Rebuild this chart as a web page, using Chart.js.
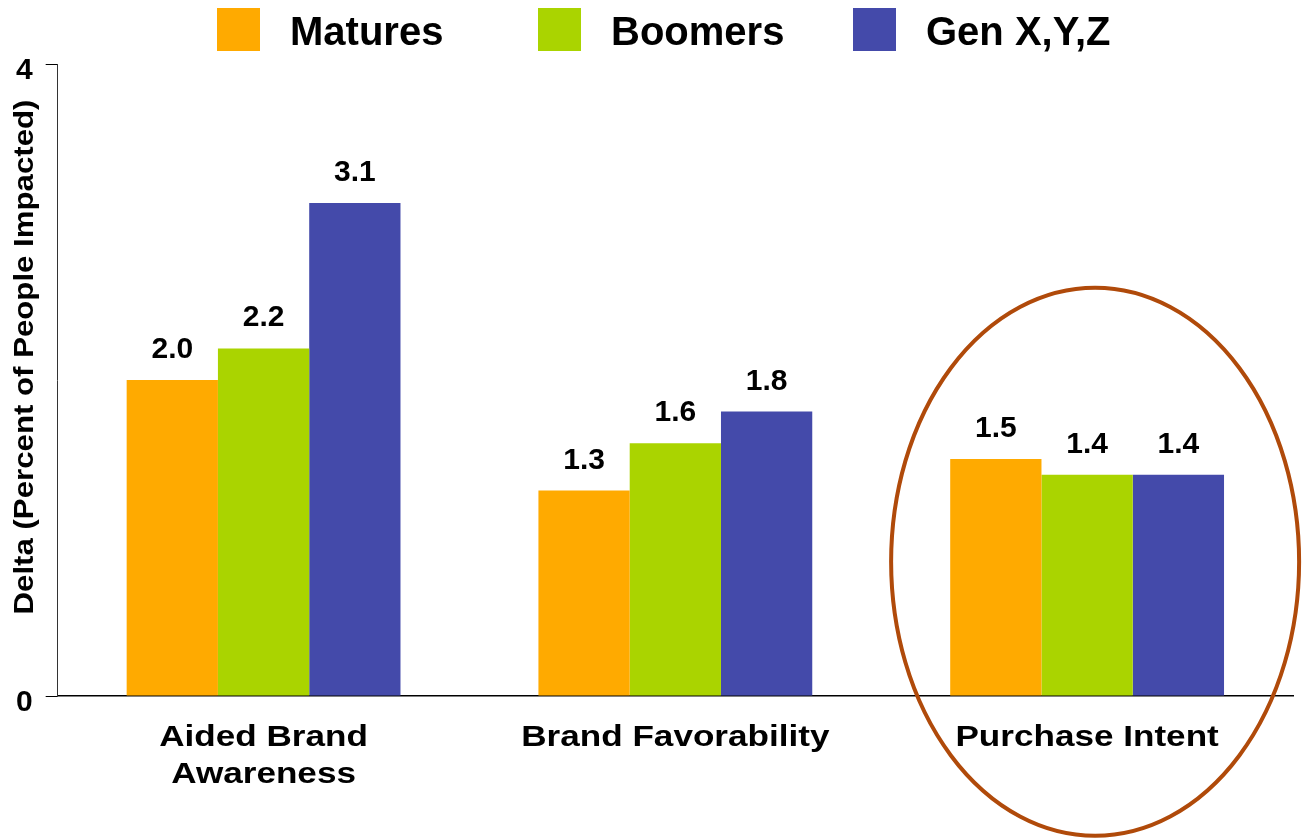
<!DOCTYPE html>
<html>
<head>
<meta charset="utf-8">
<script src="https://cdn.jsdelivr.net/npm/chart.js@4.4.1/dist/chart.umd.min.js"></script>
<style>
  body { margin: 0; background: #fff; }
  #deltaChart { display: block; }
</style>
</head>
<body>
<canvas id="deltaChart" width="1302" height="838"></canvas>
<script>
// data
const categories = [["Aided Brand", "Awareness"], ["Brand Favorability"], ["Purchase Intent"]];
const seriesNames = ["Matures", "Boomers", "Gen X,Y,Z"];
const matures = [2.0, 1.3, 1.5];
const boomers = [2.2, 1.6, 1.4];
const genXYZ = [3.12, 1.8, 1.4];
const yTicks = [0, 4];
const highlightIndex = 2;

// styles
const colors = ['#ffaa00', '#aad400', '#444aaa'];
const legendLeft = [217, 538, 853];
const FONT = "'Liberation Sans', Arial, Helvetica, sans-serif";

/* =========================
   VALUE LABELS
========================= */
const valueLabels = {
  id: 'valueLabels',
  afterDatasetsDraw(chart) {
    const ctx = chart.ctx;
    ctx.save();
    ctx.font = "bold 30px " + FONT;
    ctx.fillStyle = '#000';
    ctx.textAlign = 'center';
    chart.data.datasets.forEach((ds, i) => {
      chart.getDatasetMeta(i).data.forEach((bar, j) => {
        ctx.fillText(ds.data[j].toFixed(1), bar.x, bar.y - 22);
      });
    });
    ctx.restore();
  }
};

/* =========================
   LEGEND, TITLES, ELLIPSE
========================= */
function stretchedText(ctx, text, x, y, sx) {
  ctx.save();
  ctx.translate(x, y);
  ctx.scale(sx, 1);
  ctx.fillText(text, 0, 0);
  ctx.restore();
}

const extras = {
  id: 'extras',
  afterDraw(chart) {
    const ctx = chart.ctx;
    const x = chart.scales.x;
    const y = chart.scales.y;

    // legend
    ctx.save();
    ctx.font = "bold 40px " + FONT;
    ctx.textBaseline = 'alphabetic';
    seriesNames.forEach((name, i) => {
      ctx.fillStyle = colors[i];
      ctx.fillRect(legendLeft[i], 8, 43, 43);
      ctx.fillStyle = '#000';
      ctx.fillText(name, legendLeft[i] + 43 + 30, 45);
    });
    ctx.restore();

    // category labels (wide bold text)
    ctx.save();
    ctx.font = "bold 30px " + FONT;
    ctx.fillStyle = '#000';
    ctx.textAlign = 'center';
    categories.forEach((lines, i) => {
      const cx = x.getPixelForValue(i);
      lines.forEach((line, k) => {
        stretchedText(ctx, line, cx, y.bottom + 50 + k * 37, 1.17);
      });
    });
    ctx.restore();

    // rotated y title
    ctx.save();
    ctx.translate(33, 357);
    ctx.rotate(-Math.PI / 2);
    ctx.font = "bold 28px " + FONT;
    ctx.fillStyle = '#000';
    ctx.textAlign = 'center';
    const w = ctx.measureText('Delta (Percent of People Impacted)').width;
    stretchedText(ctx, 'Delta (Percent of People Impacted)', 0, 0, 515 / w);
    ctx.restore();

    // ellipse round purchase intent
    const cx = x.getPixelForValue(highlightIndex) + 8;
    const cy = y.getPixelForValue(0.85);
    ctx.save();
    ctx.strokeStyle = '#b04a0a';
    ctx.lineWidth = 4;
    ctx.beginPath();
    ctx.ellipse(cx, cy, 204, 274, 0, 0, Math.PI * 2);
    ctx.stroke();
    ctx.restore();
  }
};

new Chart(document.getElementById('deltaChart').getContext('2d'), {
  type: 'bar',
  data: {
    labels: categories,
    datasets: [
      { label: seriesNames[0], data: matures, backgroundColor: colors[0] },
      { label: seriesNames[1], data: boomers, backgroundColor: colors[1] },
      { label: seriesNames[2], data: genXYZ, backgroundColor: colors[2] }
    ]
  },
  options: {
    responsive: false,
    animation: false,
    layout: {
      padding: { left: 3, right: 9, top: 64, bottom: 142 }
    },
    datasets: {
      bar: {
        barPercentage: 1,
        categoryPercentage: 0.665
      }
    },
    plugins: {
      legend: { display: false },
      tooltip: { enabled: false }
    },
    scales: {
      x: {
        grid: { display: false, drawTicks: false },
        border: { display: true, color: '#000', width: 1.5 },
        ticks: { display: false }
      },
      y: {
        min: 0,
        max: 4,
        afterBuildTicks: (scale) => {
          scale.ticks = yTicks.map(v => ({ value: v }));
        },
        grid: { drawOnChartArea: false, drawTicks: true, tickLength: 12, color: '#000' },
        border: { display: true, color: '#333', width: 1 },
        ticks: {
          color: '#000',
          padding: 13,
          labelOffset: 7,
          font: { family: FONT, size: 30, weight: 'bold' }
        }
      }
    }
  },
  plugins: [valueLabels, extras]
});
</script>
</body>
</html>
